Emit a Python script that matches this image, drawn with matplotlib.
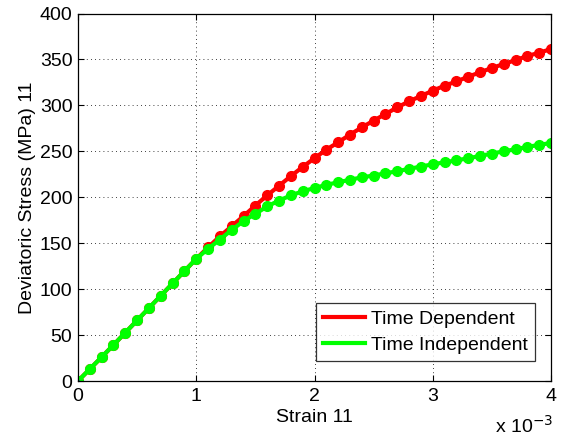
import matplotlib
matplotlib.use("Agg")
import matplotlib.pyplot as plt
import numpy as np

plt.rcParams['font.family'] = ['Liberation Sans', 'DejaVu Sans']

strain = [i * 1e-4 for i in range(41)]

time_dependent = [0, 13.0, 26.0, 39.2, 52.6, 66.0, 79.4, 92.8, 106.2, 119.6, 133.0,
                  145.5, 157.5, 168.5, 179.5, 191.0, 202.0, 212.5, 223.0, 233.0, 242.5,
                  251.8, 259.8, 268.2, 276.0, 283.4, 290.6, 297.8, 304.4, 310.2, 316.0,
                  321.4, 326.0, 331.2, 336.0, 340.7, 345.0, 349.3, 353.7, 357.3, 361.3]

time_independent = [0, 13.0, 26.0, 39.2, 52.6, 66.0, 79.4, 92.8, 106.2, 119.6, 133.0,
                    143.9, 154.0, 164.5, 174.0, 182.0, 190.0, 196.4, 202.0, 206.5, 210.0,
                    213.5, 216.3, 219.0, 221.7, 223.6, 226.1, 228.3, 230.9, 233.4, 235.9,
                    238.0, 240.2, 242.4, 245.0, 247.5, 250.0, 252.2, 254.8, 257.0, 259.1]

labels = ["Time Dependent", "Time Independent"]
xticks = [0, 1, 2, 3, 4]
yticks = [0, 50, 100, 150, 200, 250, 300, 350, 400]

FS = 14

fig = plt.figure(figsize=(5.64, 4.38), dpi=100)
ax = fig.add_axes([78/564, 1 - 381/438, (551 - 78)/564, (381 - 13.5)/438])

x = np.array(strain) * 1e3
ax.plot(x, time_dependent, color='#ff0000', lw=3, marker='o', ms=7, mew=1, label=labels[0])
ax.plot(x, time_independent, color='#00ff00', lw=3, marker='o', ms=7, mew=1, label=labels[1])
ax.plot([x[0]], [time_independent[0]], marker='.', color='#0000ff', ms=2)

ax.set_xlim(0, 4)
ax.set_ylim(0, 400)
ax.set_xticks(xticks)
ax.set_yticks(yticks)
ax.grid(True, color='black', linestyle=(0, (1, 4)), linewidth=0.6)
ax.tick_params(direction='in', top=True, right=True, labelsize=FS, length=4, width=0.8, pad=4)
ax.tick_params(axis='x', pad=5)
for s in ax.spines.values():
    s.set_linewidth(0.9)

ax.set_xlabel("Strain 11", fontsize=FS, labelpad=3)
ax.set_ylabel("Deviatoric Stress (MPa) 11", fontsize=FS, labelpad=3)
fig.text(553/564, 1 - 437/438, r"x 10$^{-3}$", ha='right', va='bottom', fontsize=FS)

leg = ax.legend(handles=[plt.Line2D([], [], color='#ff0000', lw=3),
                         plt.Line2D([], [], color='#00ff00', lw=3)],
                labels=labels, loc='lower right', bbox_to_anchor=(0.966, 0.055),
                borderaxespad=0, fontsize=FS, frameon=True, fancybox=False, edgecolor='black',
                handlelength=2.2, borderpad=0.35, labelspacing=0.45, handletextpad=0.3)
leg.get_frame().set_linewidth(0.9)

fig.savefig("out.png", dpi=100)
